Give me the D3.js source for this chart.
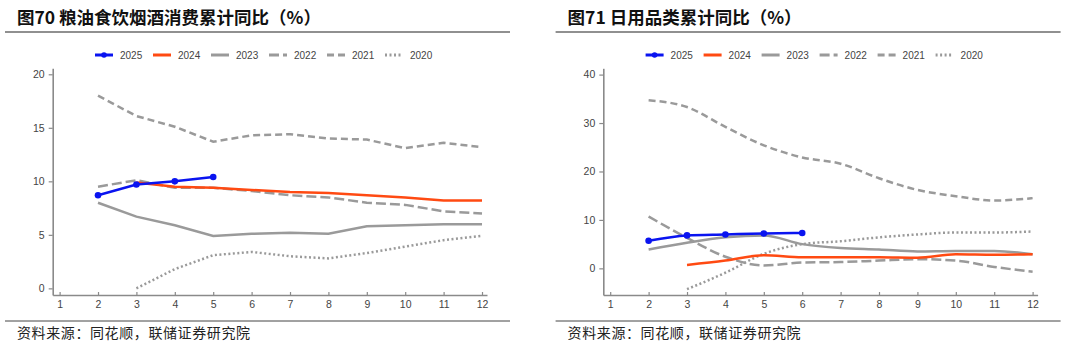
<!DOCTYPE html>
<html lang="zh">
<head>
  <meta charset="utf-8">
  <title>累计同比</title>
  <script src="https://cdn.jsdelivr.net/npm/d3@7"></script>
  <style>
    body { margin: 0; background: #fff; }
    svg { display: block; font-family: "Liberation Sans", Arial, sans-serif; }
    .cjk { font-family: "Noto Sans CJK SC", sans-serif; }
  </style>
</head>
<body>
  <script>
    var width = 1066, height = 348;

    var months = [1, 2, 3, 4, 5, 6, 7, 8, 9, 10, 11, 12];
    var years = ["2025", "2024", "2023", "2022", "2021", "2020"];

    // 粮油食饮烟酒 (values by month 1..12, null = no data)
    var grain2025 = [null, 8.7, 9.7, 10.0, 10.4, null, null, null, null, null, null, null];
    var grain2024 = [null, null, 9.9, 9.5, 9.4, 9.2, 9.0, 8.9, 8.7, 8.5, 8.2, 8.2];
    var grain2023 = [null, 8.0, 6.7, 5.9, 4.9, 5.1, 5.2, 5.1, 5.8, 5.9, 6.0, 6.0];
    var grain2022 = [null, 9.5, 10.1, 9.4, 9.4, 9.1, 8.7, 8.5, 8.0, 7.8, 7.2, 7.0];
    var grain2021 = [null, 18.0, 16.1, 15.1, 13.7, 14.3, 14.4, 14.0, 13.9, 13.1, 13.6, 13.2];
    var grain2020 = [null, null, 0.0, 1.8, 3.1, 3.4, 3.0, 2.8, 3.3, 3.9, 4.5, 4.9];

    // 日用品类
    var daily2025 = [null, 5.7, 6.8, 7.0, 7.2, 7.3, null, null, null, null, null, null];
    var daily2024 = [null, null, 0.7, 1.6, 2.7, 2.3, 2.3, 2.3, 2.2, 2.9, 2.8, 2.9];
    var daily2023 = [null, 3.9, 5.3, 6.4, 6.8, 5.0, 4.2, 3.9, 3.5, 3.6, 3.6, 2.9];
    var daily2022 = [null, 10.7, 6.3, 2.4, 0.6, 1.2, 1.3, 1.6, 1.9, 1.6, 0.3, -0.7];
    var daily2021 = [null, 34.7, 33.3, 29.2, 25.4, 22.9, 21.6, 18.6, 16.2, 14.9, 14.0, 14.5];
    var daily2020 = [null, null, -4.3, -0.9, 3.0, 5.0, 5.6, 6.4, 7.0, 7.4, 7.4, 7.6];

    var grainTicks = [0, 5, 10, 15, 20];
    var dailyTicks = [0, 10, 20, 30, 40];

    var styles = {
      "2025": { color: "#0a14f0", dash: null, w: 2.5 },
      "2024": { color: "#ff4a12", dash: null, w: 2.5 },
      "2023": { color: "#9a9a9a", dash: null, w: 2.5 },
      "2022": { color: "#9a9a9a", dash: "10,4", w: 2.5 },
      "2021": { color: "#9a9a9a", dash: "7,4", w: 2.5 },
      "2020": { color: "#9a9a9a", dash: "2,2.5", w: 2.5 }
    };

    var svg = d3.select("body").append("svg")
      .attr("width", width)
      .attr("height", height);

    function panel(opt) {
      var g = svg.append("g");
      var ox = opt.ox;

      // title + rules + source
      g.append("text").attr("class", "cjk")
        .attr("x", ox + 17).attr("y", 24)
        .attr("font-size", 17.5).attr("font-weight", "bold").attr("fill", "#111")
        .text(opt.title);
      g.append("line").attr("x1", ox + 5).attr("x2", ox + 510)
        .attr("y1", 32).attr("y2", 32).attr("stroke", "#222").attr("stroke-width", 1.2);
      g.append("line").attr("x1", ox + 5).attr("x2", ox + 510)
        .attr("y1", 321).attr("y2", 321).attr("stroke", "#444").attr("stroke-width", 1);
      g.append("text").attr("class", "cjk")
        .attr("x", ox + 17).attr("y", 338)
        .attr("font-size", 14).attr("fill", "#222")
        .attr("letter-spacing", 0.6)
        .text("资料来源：同花顺，联储证券研究院");

      var x = d3.scaleLinear().domain([0.82, 12.13]).range([ox + 52.7, ox + 487]);
      var y = d3.scaleLinear().domain(opt.ydom).range([295, 68.3]);

      var xAxis = g.append("g").attr("transform", "translate(0,295)")
        .call(d3.axisBottom(x).tickValues(months).tickSizeInner(-3).tickSizeOuter(0).tickPadding(6));
      var yAxis = g.append("g").attr("transform", "translate(" + (ox + 52.7) + ",0)")
        .call(d3.axisLeft(y).tickValues(opt.ticks).tickSizeInner(4).tickSizeOuter(0).tickPadding(4));
      [xAxis, yAxis].forEach(function (a) {
        a.select(".domain").attr("stroke", "#8a8a8a").attr("stroke-width", 1.6);
        a.selectAll(".tick line").attr("stroke", "#8a8a8a").attr("stroke-width", 1.2);
        a.selectAll(".tick text").attr("fill", "#444").attr("font-size", 10.5);
      });

      var line = d3.line()
        .defined(function (d) { return d.v !== null; })
        .x(function (d) { return x(d.m); })
        .y(function (d) { return y(d.v); })
        .curve(opt.curve);

      // draw oldest first so 2025 sits on top
      years.slice().reverse().forEach(function (yr) {
        var pts = opt.series[yr].map(function (v, i) { return { m: months[i], v: v }; });
        var s = styles[yr];
        g.append("path").datum(pts)
          .attr("fill", "none")
          .attr("stroke", s.color)
          .attr("stroke-width", s.w)
          .attr("stroke-dasharray", s.dash)
          .attr("d", line);
        if (yr === "2025") {
          g.selectAll(null).data(pts.filter(function (d) { return d.v !== null; }))
            .enter().append("circle")
            .attr("cx", function (d) { return x(d.m); })
            .attr("cy", function (d) { return y(d.v); })
            .attr("r", 3.3).attr("fill", s.color);
        }
      });

      // legend
      var lg = g.append("g").attr("transform", "translate(" + (ox + 95) + ",55)");
      years.forEach(function (yr, i) {
        var s = styles[yr];
        var it = lg.append("g").attr("transform", "translate(" + (i * 58) + ",0)");
        it.append("line").attr("x1", 0).attr("x2", 18)
          .attr("stroke", s.color).attr("stroke-width", 3)
          .attr("stroke-dasharray", s.dash);
        if (yr === "2025") it.append("circle").attr("cx", 9).attr("r", 2.8).attr("fill", s.color);
        it.append("text").attr("x", 25).attr("y", 3.8)
          .attr("font-size", 10).attr("fill", "#444").text(yr);
      });
    }

    panel({
      ox: 0,
      title: "图70 粮油食饮烟酒消费累计同比（%）",
      ydom: [-0.62, 20.56],
      ticks: grainTicks,
      curve: d3.curveLinear,
      series: { "2025": grain2025, "2024": grain2024, "2023": grain2023,
                "2022": grain2022, "2021": grain2021, "2020": grain2020 }
    });

    panel({
      ox: 550.6,
      title: "图71 日用品类累计同比（%）",
      ydom: [-5.5, 41.3],
      ticks: dailyTicks,
      curve: d3.curveMonotoneX,
      series: { "2025": daily2025, "2024": daily2024, "2023": daily2023,
                "2022": daily2022, "2021": daily2021, "2020": daily2020 }
    });
  </script>
</body>
</html>
